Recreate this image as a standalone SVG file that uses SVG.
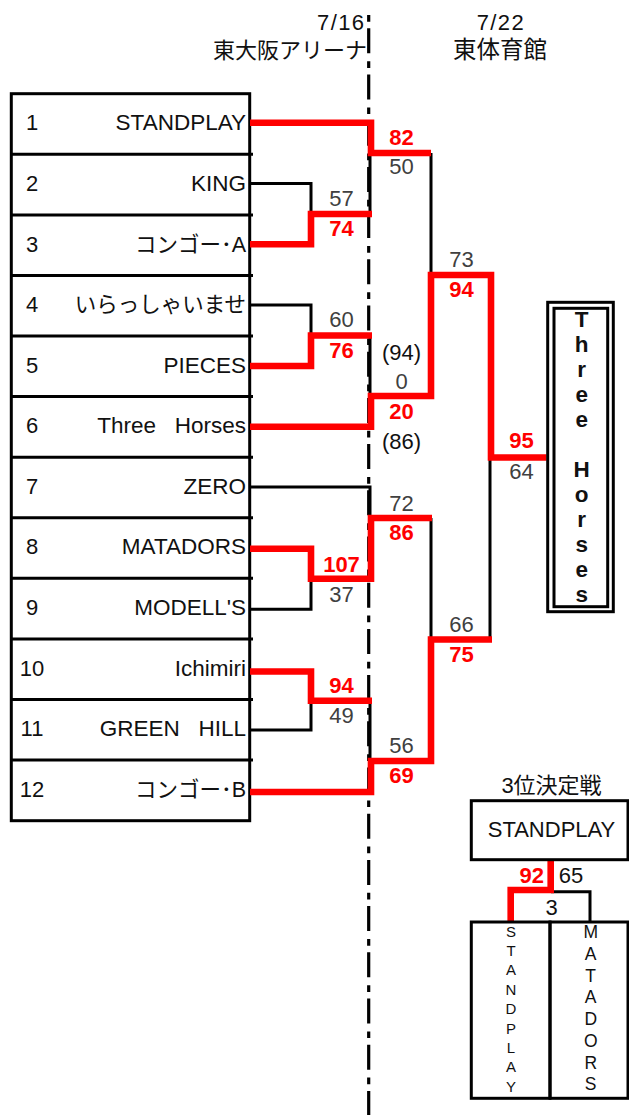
<svg xmlns="http://www.w3.org/2000/svg" width="629" height="1115" viewBox="0 0 629 1115">
<style>
text{font-family:"Liberation Sans","Noto Sans CJK JP",sans-serif;font-size:22px;fill:#111}
.num{text-anchor:middle}
.name{text-anchor:end;font-size:22.5px}
.jp{text-anchor:end;font-size:21.5px}
.box{fill:none;stroke:#000;stroke-width:3}
.blk{fill:none;stroke:#000;stroke-width:3}
.red{fill:none;stroke:#f00;stroke-width:6.6;stroke-linejoin:miter;stroke-linecap:butt}
.sg{fill:#404040;text-anchor:middle}
.sr{fill:#f00;font-weight:bold;text-anchor:middle}
.sk{fill:#111;text-anchor:middle}
.vt{text-anchor:middle;font-weight:bold;font-size:22.5px}
.v1{text-anchor:middle;font-size:15px}
.v2{text-anchor:middle;font-size:17.5px}
.hd{text-anchor:middle;font-size:23.5px}
</style>
<rect width="629" height="1115" fill="#fff"/>
<g id="header">
<text x="317" y="30" textLength="47" lengthAdjust="spacing">7/16</text>
<text x="367" y="57.5" text-anchor="end">東大阪アリーナ</text>
<text x="476.7" y="30" textLength="47" lengthAdjust="spacing">7/22</text>
<text class="hd" x="500" y="58">東体育館</text>
</g>
<line id="day-divider" x1="368.7" y1="15" x2="368.7" y2="1115" stroke="#000" stroke-width="3.2" stroke-dasharray="6.7 6.6 25 7.9"/>
<g id="table">
<rect class="box" x="11.3" y="93.7" width="238.4" height="727"/>
<path class="blk" d="M10 154.3H253M10 214.9H253M10 275.4H253M10 336H253M10 396.6H253M10 457.2H253M10 517.8H253M10 578.3H253M10 638.9H253M10 699.5H253M10 760.1H253"/>
</g>
<g id="team-1"><text class="num" x="32" y="130.3">1</text><text class="name" x="246" y="130.3">STANDPLAY</text></g>
<g id="team-2"><text class="num" x="32" y="190.9">2</text><text class="name" x="246" y="190.9">KING</text></g>
<g id="team-3"><text class="num" x="32" y="251.5">3</text><text class="jp" x="246" y="251.5">コンゴー･A</text></g>
<g id="team-4"><text class="num" x="32" y="312.1">4</text><text class="jp" x="246" y="312.1">いらっしゃいませ</text></g>
<g id="team-5"><text class="num" x="32" y="372.6">5</text><text class="name" x="246" y="372.6">PIECES</text></g>
<g id="team-6"><text class="num" x="32" y="433.2">6</text><text class="name" x="246" y="433.2" xml:space="preserve">Three   Horses</text></g>
<g id="team-7"><text class="num" x="32" y="493.8">7</text><text class="name" x="246" y="493.8">ZERO</text></g>
<g id="team-8"><text class="num" x="32" y="554.4">8</text><text class="name" x="246" y="554.4">MATADORS</text></g>
<g id="team-9"><text class="num" x="32" y="615">9</text><text class="name" x="246" y="615">MODELL'S</text></g>
<g id="team-10"><text class="num" x="32" y="675.7">10</text><text class="name" x="246" y="675.7">Ichimiri</text></g>
<g id="team-11"><text class="num" x="32" y="736.3">11</text><text class="name" x="246" y="736.3" xml:space="preserve">GREEN   HILL</text></g>
<g id="team-12"><text class="num" x="32" y="797">12</text><text class="jp" x="246" y="797">コンゴー･B</text></g>
<g id="connectors">
<path class="blk" d="M250 183.5H311V214M370 153V214M250 305H311V335.5M370 335.5V396M431 153V275M250 487H370V518M250 609.3H311V578.7M431 518V639.5M250 730H311V700.7M370 700.7V761M490 457.5V639.5M551 891.7H590V922"/>
<path class="red" d="M250 122.7H371V153H431"/>
<path class="red" d="M250 244.3H311V214H372"/>
<path class="red" d="M250 366H311V335.5H372"/>
<path class="red" d="M250 426.7H371V396H431V275H491V457.5H546.5"/>
<path class="red" d="M250 548.7H311V578.7H371V518H432"/>
<path class="red" d="M250 671.5H311V700.7H372"/>
<path class="red" d="M250 792H371V761H431V639.5H492"/>
<path class="red" d="M550.7 860V890H510.7V922"/>
</g>
<g id="scores">
<text class="sg" x="341.5" y="206">57</text><text class="sr" x="341.5" y="236">74</text>
<text class="sg" x="341.5" y="326.7">60</text><text class="sr" x="341.5" y="357.7">76</text>
<text class="sr" x="341.5" y="571.7">107</text><text class="sg" x="341.5" y="601.7">37</text>
<text class="sr" x="341.5" y="693.3">94</text><text class="sg" x="341.5" y="722.7">49</text>
<text class="sr" x="401.5" y="145">82</text><text class="sg" x="401.5" y="174">50</text>
<text class="sk" x="401.5" y="360">(94)</text><text class="sg" x="401.5" y="389">0</text>
<text class="sr" x="401.5" y="419">20</text><text class="sk" x="401.5" y="449">(86)</text>
<text class="sg" x="401.5" y="510.7">72</text><text class="sr" x="401.5" y="540">86</text>
<text class="sg" x="401.5" y="753.3">56</text><text class="sr" x="401.5" y="783.3">69</text>
<text class="sg" x="461.5" y="266.7">73</text><text class="sr" x="461.5" y="296.7">94</text>
<text class="sg" x="461.5" y="631.7">66</text><text class="sr" x="461.5" y="662">75</text>
<text class="sr" x="521.5" y="448.3">95</text><text class="sg" x="521.5" y="479.3">64</text>
<text class="sr" x="531.7" y="883.3">92</text><text class="sk" x="571" y="883.3">65</text>
<text class="sk" x="551.7" y="915">3</text>
</g>
<g id="champion">
<rect class="box" x="547.7" y="302.3" width="65.6" height="309.4"/>
<rect class="box" x="554" y="308.3" width="53.7" height="298.4"/>
<text class="vt" x="581.7" y="326.7">T</text>
<text class="vt" x="581.7" y="351.7">h</text>
<text class="vt" x="581.7" y="376.7">r</text>
<text class="vt" x="581.7" y="401.7">e</text>
<text class="vt" x="581.7" y="426.7">e</text>
<text class="vt" x="581.7" y="476.7">H</text>
<text class="vt" x="581.7" y="501.7">o</text>
<text class="vt" x="581.7" y="526.7">r</text>
<text class="vt" x="581.7" y="551.7">s</text>
<text class="vt" x="581.7" y="576.7">e</text>
<text class="vt" x="581.7" y="601.7">s</text>
</g>
<g id="third-title"><text class="sk" x="551.5" y="792.5">3位決定戦</text></g>
<g id="third-winner">
<rect class="box" x="471.3" y="800.7" width="156.7" height="59"/>
<text class="sk" x="551.5" y="836.7">STANDPLAY</text>
</g>
<g id="third-standplay">
<rect class="box" x="471.3" y="922" width="78.7" height="176.3"/>
<text class="v1" x="511" y="936.7">S</text>
<text class="v1" x="511" y="956.1">T</text>
<text class="v1" x="511" y="975.4">A</text>
<text class="v1" x="511" y="994.8">N</text>
<text class="v1" x="511" y="1014.2">D</text>
<text class="v1" x="511" y="1033.5">P</text>
<text class="v1" x="511" y="1052.9">L</text>
<text class="v1" x="511" y="1072.3">A</text>
<text class="v1" x="511" y="1091.7">Y</text>
</g>
<g id="third-matadors">
<rect class="box" x="550" y="922" width="78" height="176.3"/>
<text class="v2" x="590.7" y="938.3">M</text>
<text class="v2" x="590.7" y="960">A</text>
<text class="v2" x="590.7" y="981.7">T</text>
<text class="v2" x="590.7" y="1003.4">A</text>
<text class="v2" x="590.7" y="1025.1">D</text>
<text class="v2" x="590.7" y="1046.8">O</text>
<text class="v2" x="590.7" y="1068.5">R</text>
<text class="v2" x="590.7" y="1090.2">S</text>
</g>
</svg>
